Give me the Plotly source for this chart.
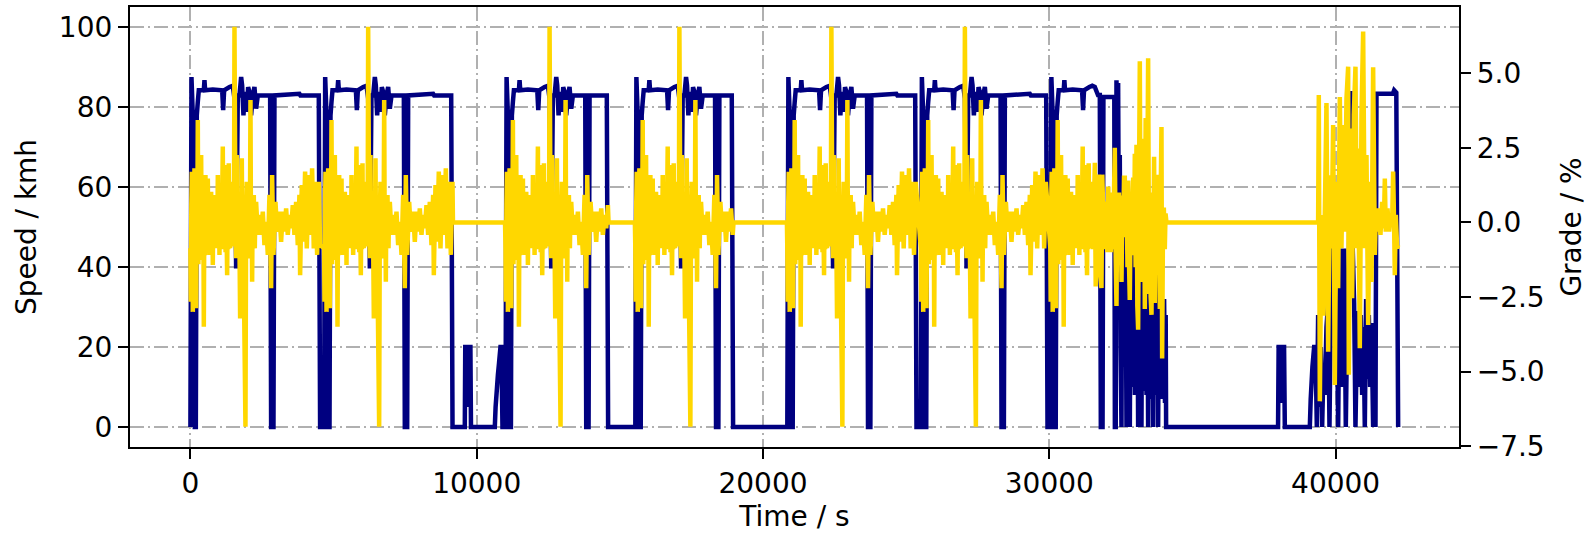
import plotly.graph_objects as go

# ---------------- data ----------------
# Base highway trip profile (seconds after trip start): speed in km/h
trip_speed_t = [0, 37, 84, 119, 154, 189, 223, 258, 293, 468, 491, 514, 782, 1109, 1144, 1178,
                1364, 1481, 1539, 1597, 1655, 1714, 1772, 1807, 1853, 1900, 1970, 2016, 2063,
                2121, 2179, 2237, 2295, 2354, 2785, 2819, 2901, 2936, 3808, 3843, 4484]
trip_speed_v = [0, 87.5, 77.9, 27.9, 0, 0, 77.9, 81.3, 84.2, 84.2, 86.7, 84.2, 84.4, 84.2, 79.2, 84.2,
                85.0, 85.3, 82.1, 39.6, 82.9, 82.9, 87.5, 85.4, 77.9, 83.8, 78.8, 85.0, 83.8,
                77.9, 82.9, 85.0, 79.6, 82.9, 82.9, 0, 0, 82.9, 83.3, 82.9, 82.9]

# Base highway trip profile: grade in %
trip_grade_t = [0, 14, 32, 49, 60, 72, 84, 103, 122, 142, 161, 180, 200, 219, 238, 258, 278, 297,
                317, 336, 355, 375, 394, 414, 433, 450, 468, 487, 507, 526, 542, 557, 573, 585, 597,
                608, 627, 647, 666, 685, 705, 724, 743, 763, 782, 801, 821, 840, 860, 880, 899, 918,
                938, 957, 976, 996, 1015, 1034, 1054, 1073, 1092, 1112, 1131, 1150, 1170, 1190, 1209,
                1229, 1248, 1265, 1283, 1302, 1322, 1341, 1356, 1372, 1388, 1407, 1427, 1446, 1464,
                1481, 1500, 1520, 1539,
                1574, 1597, 1620, 1640, 1660, 1679, 1700, 1718, 1737, 1756, 1775, 1795, 1815, 1834,
                1853, 1923, 1946, 1970, 1990, 2009, 2028, 2050, 2075, 2098, 2118, 2137, 2156, 2175,
                2195, 2214, 2232, 2249, 2272, 2295, 2354,
                2412, 2470, 2528, 2586, 2644, 2703, 2761, 2819, 2854, 2901, 2971, 3029, 3110, 3168,
                3227, 3285, 3343, 3401, 3459, 3518, 3576, 3634, 3692, 3750, 3808, 3832, 3890, 3948,
                4006, 4065, 4135, 4193, 4251, 4309, 4367, 4426, 4484, 4530]
trip_grade_v = [-0.87, -2.66, 0.6, 1.70, -1.1, 0.9, -3.00, 0.4, -1.2, 1.81, -0.9, 1.1, -2.88, 0.7,
                -0.9, 3.43, -1.4, 1.0, -0.87, 1.3, -1.0, 2.26, -0.8, 0.9, -1.26, 0.8, -3.50, 0.5,
                -1.1, 1.59, -1.0, 0.8, -0.87, 0.6, -0.9, 1.47, -0.7, 0.9, -1.09, 0.8, -0.6, 1.03,
                -0.9, 0.7, -1.43, 0.6, -0.8, 0.92, -0.7, 0.8, -0.87, 0.9, -0.6, 1.59, -0.8, 0.6,
                -1.09, 0.7, -0.8, 1.03, -0.6, 0.9, 2.54, -0.9, 0.7, -0.87, 0.8, -1.0, 1.92, -0.5,
                -1.77, 0.6, -0.9, 1.98, -0.6, 0.7, -0.87, 0.8, -0.7, 1.36, -0.8, -0.65, 0.9, -0.5,
                6.56,
                -0.20, -1.2, 2.26, -0.6, 0.9, -0.87, 1.0, -1.2, -3.22, 0.8, -0.6, 2.15, -1.0, 0.9,
                -0.87, -6.85, 0.2, 1.36, -0.8, 0.7, -1.21, 0.9, -0.9, 4.10, -0.9, 0.6, -1.99, 0.7,
                -0.6, 0.92, -0.5, -0.87, 0.5, 0.69, -0.42,
                0.25, -0.42, 0.36, -0.76, 0.02, -1.09, 0.92, -2.21, 1.59, -1.09, 0.69, -0.31, 0.36,
                -0.65, 0.36, -0.31, 0.47, -0.42, 0.25, -0.20, 0.58, -0.42, 0.69, -0.76, 0.92, -1.77,
                1.25, -0.65, 1.70, -0.87, 1.59, -0.42, 1.81, -0.87, 1.36, -1.09, 1.36, -0.76]

# Start time and duration (s) of the six repeated highway trips
trip_start = [0, 4670, 11006, 15540, 20849, 25512]
trip_duration = [4530, 4485, 3584, 3415, 4512, 4425]

# Short low-speed moves between trip 2 and trip 3
gap_a_t = [9584, 9600, 9650, 9680, 9720, 9780, 9800, 10632, 10660, 10700, 10740, 10780, 10830, 10860, 10900]
gap_a_v = [0, 20, 20, 5, 20, 20, 0, 0, 5, 9, 13, 16, 20, 20, 0]

# Seventh trip: highway start then city driving
trip7_start = 30035
trip7_base_until = 1450
city_speed_t = [31500, 31589, 31700, 31764, 31800, 31860, 31890, 32270, 32290, 32320,
                32346, 32380, 32404, 32435, 32462, 32490, 32521, 32545, 32575, 32605, 32635, 32665,
                32696, 32725, 32755, 32785, 32812, 32840, 32870, 32900, 32930, 32960, 32990, 33020,
                33050, 33075, 33103, 33130, 33160, 33190, 33219, 33245, 33275, 33305, 33335, 33365,
                33395, 33425, 33452, 33480, 33510, 33540, 33570, 33600, 33627, 33655, 33685, 33715,
                33745, 33775, 33801, 33830, 33860, 33890, 33920, 33950, 33980, 34010, 34040, 34065, 34080]
city_speed_v = [85.3, 85.0, 83.0, 83.0, 0, 0, 82.5, 82.5, 0, 0,
                86.7, 62, 86, 35, 68, 20, 0, 55, 25, 53, 15, 48,
                0, 45, 12, 50, 0, 44, 10, 46, 14, 42, 8, 45,
                12, 40, 0, 43, 10, 38, 0, 44, 9, 40, 12, 45,
                8, 36, 0, 42, 10, 38, 7, 44, 0, 40, 12, 36,
                8, 42, 0, 35, 9, 38, 7, 30, 8, 32, 6, 28, 0]
city_grade_t = [31530, 31590, 31620, 31660, 31700, 31740, 31780, 31822, 31850, 31880, 31910, 31939,
                31970, 32000, 32030, 32060, 32090, 32120, 32150, 32180, 32230, 32260, 32288, 32320,
                32346, 32375, 32404, 32430, 32462, 32490, 32521, 32550, 32580, 32610, 32637, 32660,
                32700, 32730, 32754, 32780, 32811, 32840, 32870, 32900, 32930, 32960, 32987, 33015,
                33045, 33075, 33103, 33130, 33161, 33190, 33219, 33250, 33280, 33310, 33336, 33365,
                33400, 33425, 33452, 33480, 33510, 33540, 33569, 33600, 33630, 33660, 33685, 33715,
                33745, 33775, 33801, 33830, 33860, 33890, 33918, 33941, 33970, 34000, 34034, 34060, 34092]
city_grade_v = [-0.9, 2.0, -2.15, 0.8, -0.8, 1.6, -1.8, -2.2, 1.6, 0.5, -0.9, 0.7,
                -0.9, 0.7, -1.0, 1.2, -0.6, 1.0, -1.0, 0.8, -0.9, 1.0, 2.5, -1.2,
                -2.8, 0.9, -0.2, 1.0, -0.6, 0.9, -2.0, 0.5, -0.4, 1.5, 1.5, -0.5,
                1.3, -1.5, 1.4, -1.2, -2.6, 0.3, -1.1, 0.5, 1.5, -0.8, 2.3, -1.5,
                2.6, -2.8, -3.6, 1.0, 5.4, -2.0, 0.5, 2.5, -1.5, 2.8, -2.9, 3.5,
                -2.4, 1.5, 5.5, -1.0, 1.0, -2.5, -3.1, 0.8, -1.8, 2.2, -2.7, 0.5,
                -1.5, 1.6, -1.1, 1.3, -2.9, 0.9, 3.2, -4.56, -0.2, 0.5, -0.9, 0.3, 0]

# Standing time and last trip
gap_b_t = [37990, 38010, 38060, 38090, 38120, 38200, 38226, 39099, 39130, 39190, 39250]
gap_b_v = [0, 20, 20, 6, 20, 20, 0, 0, 7, 15, 20]
last_speed_t = [39297, 39344, 39390, 39437, 39483, 39530, 39576, 39623, 39681, 39740, 39786, 39833,
                39891, 39949, 39996, 40042, 40089, 40147, 40193, 40252, 40298, 40356, 40403, 40450,
                40519, 40566, 40601, 40647, 40694, 40740, 40787, 40834, 40880, 40927, 40973, 41020,
                41066, 41113, 41160, 41206, 41253, 41311, 41358, 41393, 41428, 42000, 42045, 42120, 42185]
last_speed_v = [20, 0, 28, 5, 20, 0, 15, 8, 25, 31, 0, 30,
                60, 52, 15, 30, 0, 44.6, 10, 35, 44.6, 0, 25, 30,
                84, 60, 44, 31, 0, 20, 29, 10, 28, 8, 25, 0,
                32, 12, 28, 10, 26, 0, 25, 0, 83.3, 83.3, 84.2, 83.6, 0]
last_grade_t = [39390, 39413, 39449, 39507, 39565, 39623, 39681, 39740, 39798, 39856, 39914, 39972,
                40030, 40089, 40147, 40205, 40263, 40321, 40380, 40438, 40461, 40531, 40577, 40636,
                40694, 40740, 40787, 40845, 40904, 40962, 41020, 41078, 41137, 41195, 41253, 41311,
                41370, 41404, 41462, 41509, 41567, 41625, 41683, 41719, 41753, 41812, 41870, 41928,
                41975, 42010, 42045, 42068, 42103, 42150, 42185]
last_grade_v = [0, 4.27, -6.0, 0.25, -3.13, 0.25, 4.0, -4.34, 1.58, -0.87, 3.26, -5.45,
                1.36, -2.21, 4.2, -0.87, 3.26, -0.31, 4.16, 5.22, -5.11, 3.15, -2.54, 3.6,
                5.22, -0.87, 2.48, -4.22, 3.6, 6.4, -0.87, 2.26, -3.44, 1.36, -2.0, 5.2,
                -1.09, 0.25, -0.31, 0.47, -0.42, 0.69, -0.2, 1.47, -0.31, 0.47, -0.31, 0.25,
                0.02, 1.7, -0.2, -1.77, 0.25, -0.87, -0.76]

# Periods with the vehicle parked: grade flat at 0
flat_grade_start = [9170, 14605, 18970]
flat_grade_end = [10990, 15525, 20835]

x_ticks = [0, 10000, 20000, 30000, 40000]
speed_ticks = [0, 20, 40, 60, 80, 100]
grade_ticks = [-7.5, -5.0, -2.5, 0.0, 2.5, 5.0]

# ---------------- assemble series ----------------
speed_t, speed_v, grade_t, grade_v = [], [], [], []


def add_trip_speed(start, dur):
    for t, v in zip(trip_speed_t, trip_speed_v):
        if t <= dur - 46:
            speed_t.append(start + t)
            speed_v.append(v)
    speed_t.extend([start + dur - 46, start + dur])
    speed_v.extend([82.9, 0])


def add_trip_grade(start, dur):
    for t, g in zip(trip_grade_t, trip_grade_v):
        if t <= dur:
            grade_t.append(start + t)
            grade_v.append(g)


for i, (s, d) in enumerate(zip(trip_start, trip_duration)):
    add_trip_speed(s, d)
    add_trip_grade(s, d)
    if i == 1:
        speed_t.extend(gap_a_t)
        speed_v.extend(gap_a_v)
    if i in (1, 2, 3):
        k = [1, 2, 3].index(i)
        grade_t.extend([flat_grade_start[k], flat_grade_end[k]])
        grade_v.extend([0, 0])

# trip 7
for t, v in zip(trip_speed_t, trip_speed_v):
    if t <= trip7_base_until:
        speed_t.append(trip7_start + t)
        speed_v.append(v)
for t, g in zip(trip_grade_t, trip_grade_v):
    if t <= trip7_base_until:
        grade_t.append(trip7_start + t)
        grade_v.append(g)
speed_t += city_speed_t + gap_b_t + last_speed_t
speed_v += city_speed_v + gap_b_v + last_speed_v
grade_t += city_grade_t + last_grade_t
grade_v += city_grade_v + last_grade_v

# ---------------- figure ----------------
GRID_DASH = "14px,4px,2px,4px"
fig = go.Figure()
fig.add_trace(go.Scatter(x=speed_t, y=speed_v, mode="lines", yaxis="y",
                         line=dict(color="#000080", width=4.5, simplify=False), name="Speed"))
fig.add_trace(go.Scatter(x=grade_t, y=grade_v, mode="lines", yaxis="y2",
                         line=dict(color="#FFD700", width=4.5, simplify=False), name="Grade"))

axis_common = dict(showline=True, linecolor="black", linewidth=2.2, ticks="outside",
                   ticklen=10, tickwidth=2.2, tickcolor="black", zeroline=False,
                   tickfont=dict(size=28, color="black"), automargin=False)

fig.update_layout(
    width=1588, height=534,
    margin=dict(l=130, r=129, t=7, b=87),
    paper_bgcolor="white", plot_bgcolor="white",
    showlegend=False,
    font=dict(family="DejaVu Sans", size=28, color="black"),
    xaxis=dict(range=[-2110, 44310], tickvals=x_ticks, tickformat="d", mirror=True,
               showgrid=True, gridcolor="#b0b0b0", gridwidth=2.2, griddash=GRID_DASH,
               title=dict(text="Time / s", font=dict(size=28), standoff=8), **axis_common),
    yaxis=dict(range=[-5, 105], tickvals=speed_ticks, mirror=True,
               showgrid=True, gridcolor="#b0b0b0", gridwidth=2.2, griddash=GRID_DASH,
               title=dict(text="Speed / kmh", font=dict(size=28), standoff=14), **axis_common),
    yaxis2=dict(range=[-7.53, 7.22], tickvals=grade_ticks, tickformat=".1f", overlaying="y",
                side="right", showgrid=False,
                title=dict(text="Grade / %", font=dict(size=28), standoff=18), **axis_common),
)

fig.write_html("out.html", config={"displayModeBar": False},
               post_script="document.body.style.margin='0px';document.body.style.overflow='hidden';")
